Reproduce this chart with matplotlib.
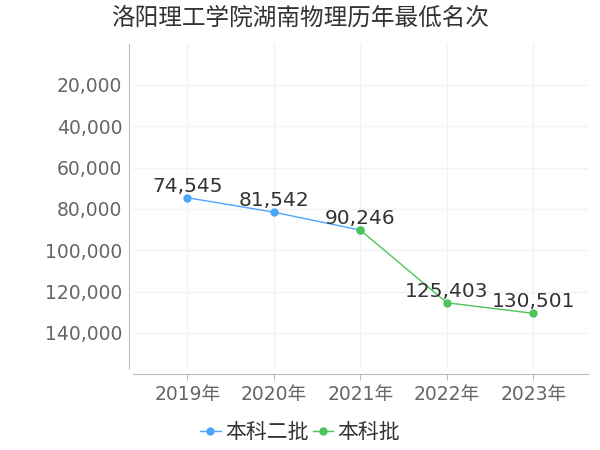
import matplotlib.pyplot as plt

plt.rcParams['font.family'] = ['DejaVu Sans', 'Noto Sans CJK SC']

years = ["2019年", "2020年", "2021年", "2022年", "2023年"]
erpi_x = [0, 1, 2]
erpi_vals = [74545, 81542, 90246]
benke_x = [2, 3, 4]
benke_vals = [90246, 125403, 130501]
yticks = [20000, 40000, 60000, 80000, 100000, 120000, 140000]

blue = "#4aa6ff"
green = "#4cc45a"

fig = plt.figure(figsize=(6, 4.5), dpi=100)
ax = fig.add_axes([0.222, 0.182, 0.758, 0.721])

ax.plot(erpi_x, erpi_vals, color=blue, lw=1, marker="o", ms=5, label="本科二批", zorder=3)
ax.plot(benke_x, benke_vals, color=green, lw=1, marker="o", ms=5, label="本科批", zorder=3)

# data labels above points
for x, v in zip(erpi_x[:2], erpi_vals[:2]):
    ax.annotate(f"{v:,}", (x, v), xytext=(0, 1.5), textcoords="offset points",
                ha="center", va="bottom", fontsize=14.5, color="#333333")
for x, v in zip(benke_x, benke_vals):
    ax.annotate(f"{v:,}", (x, v), xytext=(0, 1.5), textcoords="offset points",
                ha="center", va="bottom", fontsize=14.5, color="#333333")

ax.set_xlim(-0.625, 4.63)
ax.set_ylim(157000, 0)
ax.set_xticks(range(len(years)))
ax.set_xticklabels(years)
ax.set_yticks(yticks)
ax.set_yticklabels([f"{t:,}" for t in yticks])
ax.tick_params(colors="#666666", labelsize=13.5, length=0, pad=5)
ax.tick_params(axis="x", length=4, color="#bbbbbb", direction="out", pad=4)

ax.grid(True, color="#f2f2f2", lw=1)
ax.set_axisbelow(True)
for s in ["top", "right"]:
    ax.spines[s].set_visible(False)
ax.spines["left"].set_position(("outward", 3))
ax.spines["bottom"].set_position(("outward", 4))
ax.spines["left"].set_color("#bbbbbb")
ax.spines["bottom"].set_color("#bbbbbb")

fig.text(0.5, 0.96, "洛阳理工学院湖南物理历年最低名次", ha="center", va="center",
         fontsize=17, color="#333333")

fig.legend(loc="center", bbox_to_anchor=(0.5, 0.04), ncol=2, frameon=False,
           fontsize=15, handlelength=1.0, handletextpad=0.2, columnspacing=0.2,
           labelcolor="#333333")

fig.savefig("out.png", dpi=100)
